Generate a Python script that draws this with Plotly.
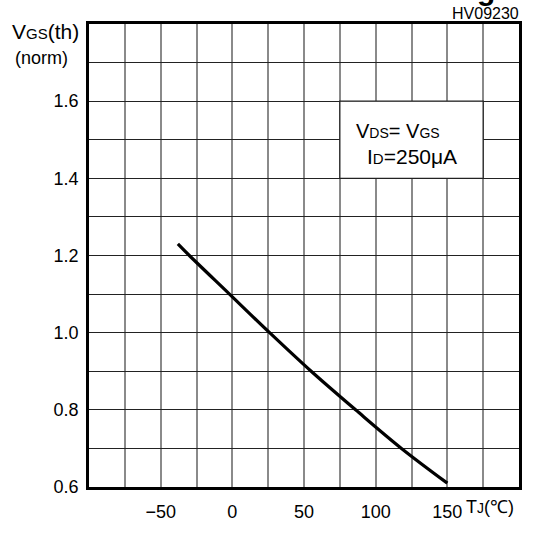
import plotly.graph_objects as go

# ---- data ----
tj = [-38, -30, -2, 26, 55, 86, 118, 150]               # junction temperature (degC)
vgs_norm = [1.23, 1.2, 1.1, 1.0, 0.9, 0.8, 0.7, 0.61]   # normalised VGS(th)

x_tickvals = [-75, -50, -25, 0, 25, 50, 75, 100, 125, 150, 175]
x_ticktext = ["", "\u221250", "", "0", "", "50", "", "100", "", "150", ""]
y_tickvals = [0.6, 0.7, 0.8, 0.9, 1.0, 1.1, 1.2, 1.3, 1.4, 1.5, 1.6, 1.7]
y_ticktext = ["0.6", "", "0.8", "", "1.0", "", "1.2", "", "1.4", "", "1.6", ""]

W, H = 534, 534
L, R, T, B = 89, 522, 24, 497

def px(x):
    return (x - L) / (R - L)

def py(y):
    return (B - y) / (B - T)

fig = go.Figure()
fig.add_trace(go.Scatter(x=tj, y=vgs_norm, mode="lines",
                         line=dict(color="black", width=3.2),
                         line_shape="spline", showlegend=False,
                         hoverinfo="skip"))

# white condition box (covers grid)
fig.add_shape(type="rect", xref="x", yref="y", x0=75, x1=175, y0=1.4, y1=1.6,
              fillcolor="white", line=dict(color="#222", width=1.3), layer="above")

sans = "Liberation Sans, Arial, sans-serif"

def sub(t, s):
    return "<span style='font-size:%dpx'>%s</span>" % (s, t)

ann = [
    dict(text="V" + sub("GS", 15) + "(th)", x=px(9), y=py(32), xanchor="left", yanchor="middle",
         font=dict(size=21, family=sans, color="black")),
    dict(text="(norm)", x=px(12), y=py(59), xanchor="left", yanchor="middle",
         font=dict(size=18, family=sans, color="black")),
    dict(text="HV09230", x=px(524), y=py(13), xanchor="right", yanchor="middle",
         font=dict(size=16, family=sans, color="black")),
    dict(text="T" + sub("J", 14) + "(\u2103)", x=px(467), y=py(517),
         xanchor="left", yanchor="middle",
         font=dict(size=18, family=sans, color="black")),
    dict(text="V" + sub("DS", 14) + "= V" + sub("GS", 14), x=px(356), y=py(133),
         xanchor="left", yanchor="middle",
         font=dict(size=20, family=sans, color="black")),
    dict(text="I" + sub("D", 15) + "=250\u03bcA", x=px(367), y=py(159),
         xanchor="left", yanchor="middle",
         font=dict(size=21, family=sans, color="black")),
    dict(text="<b>g</b>", x=px(489), y=py(8), xanchor="center", yanchor="bottom",
         font=dict(size=30, family=sans, color="black")),
]
for a in ann:
    a.update(xref="paper", yref="paper", showarrow=False)
    fig.add_annotation(**a)

fig.update_xaxes(range=[-100, 200], tickmode="array", tickvals=x_tickvals,
                 ticktext=x_ticktext, showgrid=True, gridcolor="#8a8a8a", gridwidth=1.5,
                 zeroline=False, showline=True, linecolor="black", linewidth=2.6,
                 mirror=True, ticks="", ticklabelstandoff=7,
                 tickfont=dict(size=18, family=sans, color="black"))
fig.update_yaxes(range=[0.6, 1.8], tickmode="array", tickvals=y_tickvals,
                 ticktext=y_ticktext, showgrid=True, gridcolor="#222222", gridwidth=1.3,
                 zeroline=False, showline=True, linecolor="black", linewidth=2.6,
                 mirror=True, ticks="", ticklabelstandoff=4,
                 tickfont=dict(size=18, family=sans, color="black"))

fig.update_layout(width=W, height=H, margin=dict(l=L, r=W - R, t=T, b=H - B),
                  plot_bgcolor="white", paper_bgcolor="white", showlegend=False)

fig.write_html("out.html", config={"displayModeBar": False},
               post_script="document.body.style.margin='0';document.body.style.overflow='hidden';")
